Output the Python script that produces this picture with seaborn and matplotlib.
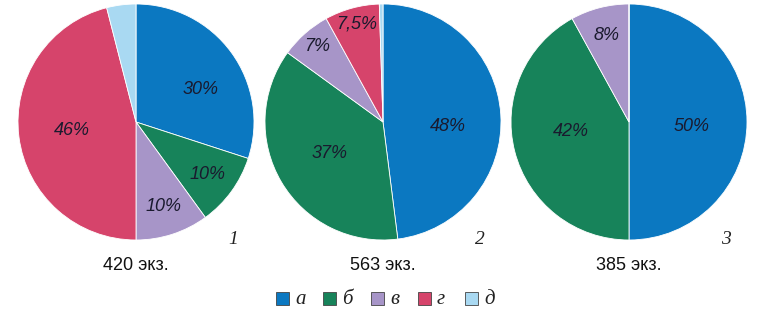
import numpy as np
import matplotlib
matplotlib.use("Agg")
import matplotlib.pyplot as plt
import seaborn as sns

categories = ["а", "б", "в", "г", "д"]
colors = ["#0b78c1", "#17835a", "#a795c8", "#d6446b", "#a9d9f2"]

pie1_values = [30, 10, 10, 46, 4]
pie2_values = [48, 37, 7, 7.5, 0.5]
pie3_values = [50, 42, 8, 0, 0]

pie1_labels = ["30%", "10%", "10%", "46%", ""]
pie2_labels = ["48%", "37%", "7%", "7,5%", ""]
pie3_labels = ["50%", "42%", "8%", "", ""]

pie_numbers = ["1", "2", "3"]
pie_totals = ["420 экз.", "563 экз.", "385 экз."]

sns.set_theme(style="white")
plt.rcParams["font.family"] = ["Liberation Sans", "DejaVu Sans"]

W, H = 768, 322
fig = plt.figure(figsize=(W / 100, H / 100), dpi=100)

centers_x = [136, 383, 629]
cy = 122
R = 118
# (distance, angle shift in degrees) for each label
label_pos = [
    [(0.61, -9), (0.75, 0), (0.75, 0), (0.55, 0), (0.6, 0)],
    [(0.55, -8), (0.53, 0), (0.85, 0), (0.86, 0), (0.6, 0)],
    [(0.53, -4), (0.5, -5), (0.76, 0), (0.6, 0), (0.6, 0)],
]

for i, (vals, labs) in enumerate(zip([pie1_values, pie2_values, pie3_values],
                                     [pie1_labels, pie2_labels, pie3_labels])):
    cx = centers_x[i]
    ax = fig.add_axes([(cx - R) / W, (H - cy - R) / H, 2 * R / W, 2 * R / H])
    wedges, _ = ax.pie(vals, colors=colors, startangle=90, counterclock=False,
                       radius=1, wedgeprops=dict(linewidth=0.6, edgecolor="white"))
    ax.set_xlim(-1, 1)
    ax.set_ylim(-1, 1)
    for w, lab, (d, shift) in zip(wedges, labs, label_pos[i]):
        if not lab:
            continue
        ang = np.deg2rad((w.theta1 + w.theta2) / 2 + shift)
        ax.text(d * np.cos(ang), d * np.sin(ang), lab, ha="center", va="center",
                fontsize=13, style="italic", color="#1a1a2e")
    fig.text((cx + 97) / W, 1 - 240 / H, pie_numbers[i], ha="center", va="center",
             fontsize=14, style="italic", family=["Liberation Serif"], color="#222222")
    fig.text(cx / W, 1 - 266 / H, pie_totals[i], ha="center", va="center",
             fontsize=13, color="#111111")

# legend
leg_x = [283, 330, 378, 425, 472]
for x, c, cat in zip(leg_x, colors, categories):
    fig.patches.append(plt.Rectangle(((x - 7) / W, 1 - 305 / H), 13 / W, 13 / H,
                                     transform=fig.transFigure, facecolor=c,
                                     edgecolor="#444444", linewidth=0.6))
    fig.text((x + 12) / W, 1 - 299 / H, cat, ha="left", va="center",
             fontsize=15, style="italic", family=["Liberation Serif"], color="#222222")

fig.savefig("out.png", dpi=100)
